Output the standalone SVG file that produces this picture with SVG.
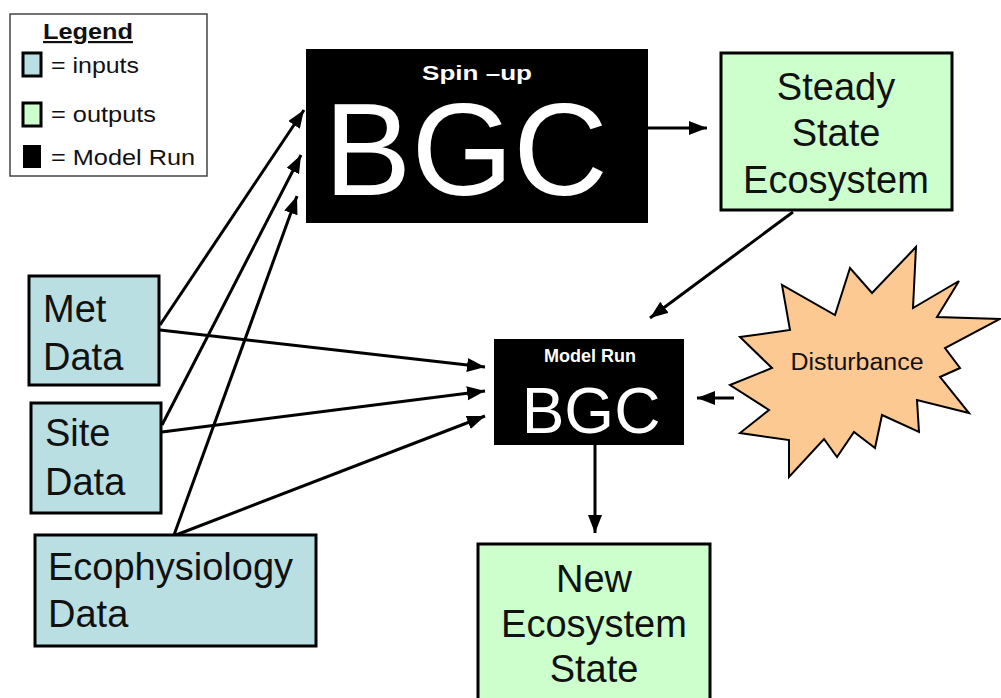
<svg xmlns="http://www.w3.org/2000/svg" width="1001" height="698" viewBox="0 0 1001 698">
<style>
text{font-family:"Liberation Sans",Arial,sans-serif;fill:#111;}
.in{fill:#b9dfe2;stroke:#000;stroke-width:3;}
.out{fill:#ccffcc;stroke:#000;stroke-width:3;}
.run{fill:#000;}
.lbl{font-size:38px;}
.wt{fill:#fff;}
.conn{stroke:#000;stroke-width:3;fill:none;marker-end:url(#ah);}
</style>
<defs>
<marker id="ah" markerUnits="userSpaceOnUse" markerWidth="20" markerHeight="16" refX="18" refY="7" orient="auto" viewBox="0 0 20 16">
<path d="M0,0 L18,7 L0,14 Z" fill="#000"/>
</marker>
</defs>
<rect width="1001" height="698" fill="#fff"/>
<g id="legend">
<rect x="10" y="14" width="197" height="162" fill="#fff" stroke="#444" stroke-width="1.5"/>
<text x="43" y="39" font-size="22" font-weight="bold" text-decoration="underline" textLength="90" lengthAdjust="spacingAndGlyphs">Legend</text>
<rect x="23" y="53" width="18" height="23" class="in" stroke-width="2"/>
<text x="51" y="73" font-size="22" textLength="88" lengthAdjust="spacingAndGlyphs">= inputs</text>
<rect x="23" y="103" width="18" height="23" class="out" stroke-width="2"/>
<text x="51" y="122" font-size="22" textLength="105" lengthAdjust="spacingAndGlyphs">= outputs</text>
<rect x="23" y="145" width="18" height="23" fill="#000"/>
<text x="51" y="165" font-size="22" textLength="144" lengthAdjust="spacingAndGlyphs">= Model Run</text>
</g>
<g id="connectors">
<line x1="648" y1="128" x2="707" y2="128" class="conn"/>
<line x1="793" y1="212" x2="650" y2="318" class="conn"/>
<line x1="160" y1="325" x2="304" y2="110" class="conn"/>
<line x1="162" y1="425" x2="301" y2="155" class="conn"/>
<line x1="174" y1="535" x2="297" y2="196" class="conn"/>
<line x1="160" y1="330" x2="485" y2="367" class="conn"/>
<line x1="162" y1="432" x2="485" y2="391" class="conn"/>
<line x1="176" y1="535" x2="485" y2="416" class="conn"/>
<line x1="734" y1="398" x2="697" y2="398" class="conn"/>
<line x1="595" y1="445" x2="595" y2="533" class="conn"/>
</g>
<g id="spinup">
<rect x="306" y="49" width="342" height="174" class="run"/>
<text x="477" y="80" font-size="21" font-weight="bold" text-anchor="middle" class="wt" textLength="110" lengthAdjust="spacingAndGlyphs">Spin –up</text>
<text x="466" y="195" font-size="131" text-anchor="middle" class="wt">BGC</text>
</g>
<g id="steady">
<rect x="721" y="53" width="231" height="157" class="out"/>
<text x="836" y="100" class="lbl" font-size="37" text-anchor="middle">Steady</text>
<text x="836" y="146" class="lbl" font-size="37" text-anchor="middle">State</text>
<text x="836" y="193" class="lbl" font-size="37" text-anchor="middle">Ecosystem</text>
</g>
<g id="met">
<rect x="29" y="276" width="130" height="109" class="in"/>
<text x="43" y="322" class="lbl">Met</text>
<text x="43" y="370" class="lbl">Data</text>
</g>
<g id="site">
<rect x="31" y="403" width="130" height="110" class="in"/>
<text x="45" y="446" class="lbl">Site</text>
<text x="45" y="495" class="lbl">Data</text>
</g>
<g id="ecophys">
<rect x="35" y="535" width="281" height="111" class="in"/>
<text x="48" y="580" class="lbl">Ecophysiology</text>
<text x="48" y="627" class="lbl">Data</text>
</g>
<g id="modelrun">
<rect x="494" y="339" width="190" height="106" class="run"/>
<text x="590" y="362" font-size="18" font-weight="bold" text-anchor="middle" class="wt">Model Run</text>
<text x="591" y="433" font-size="64" text-anchor="middle" class="wt">BGC</text>
</g>
<g id="disturbance">
<polygon points="916,247 913,308 959,281 937,317 1000,319 945,348 960,368 940,377 969,413 917,400 919,432 882,415 875,448 854,432 837,457 824,439 789,477 789,440 740,433 769,410 730,385 772,368 740,337 790,330 782,285 835,315 850,268 872,293" fill="#fdc993" stroke="#000" stroke-width="2"/>
<text x="857" y="370" font-size="23" text-anchor="middle" textLength="133" lengthAdjust="spacingAndGlyphs">Disturbance</text>
</g>
<g id="newstate">
<rect x="478" y="544" width="232" height="160" class="out"/>
<text x="594" y="592" class="lbl" font-size="37" text-anchor="middle">New</text>
<text x="594" y="637" class="lbl" font-size="37" text-anchor="middle">Ecosystem</text>
<text x="594" y="682" class="lbl" font-size="37" text-anchor="middle">State</text>
</g>
</svg>
